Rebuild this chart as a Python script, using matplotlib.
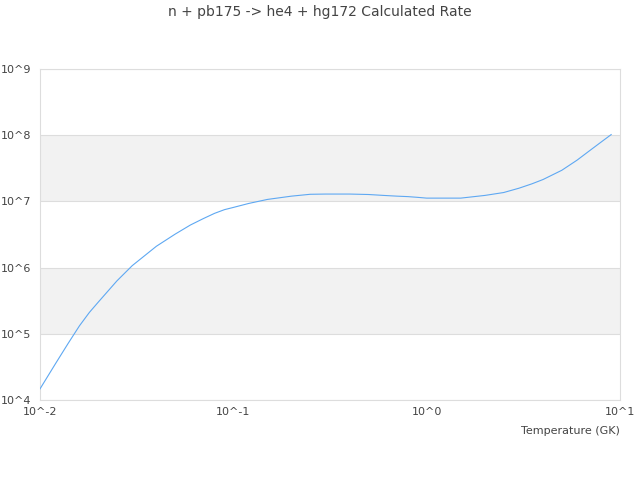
"""
n + pb175 -> he4 + hg172 反应率曲线
"""
import matplotlib
matplotlib.use('Agg')
import matplotlib.pyplot as plt

# 温度 (GK) 与反应率
temperature = [0.01, 0.012, 0.014, 0.016, 0.018, 0.02, 0.025, 0.03, 0.04, 0.05,
               0.06, 0.07, 0.08, 0.09, 0.1, 0.12, 0.15, 0.2, 0.25, 0.3,
               0.4, 0.5, 0.6, 0.7, 0.8, 0.9, 1.0, 1.5, 2.0, 2.5,
               3.0, 3.5, 4.0, 5.0, 6.0, 7.0, 8.0, 9.0]
rate = [1.47e4, 3.5e4, 7.2e4, 1.32e5, 2.1e5, 3.0e5, 6.3e5, 1.07e6, 2.1e6, 3.2e6,
        4.4e6, 5.5e6, 6.6e6, 7.5e6, 8.1e6, 9.3e6, 1.07e7, 1.2e7, 1.28e7, 1.29e7,
        1.29e7, 1.27e7, 1.23e7, 1.2e7, 1.18e7, 1.15e7, 1.12e7, 1.12e7, 1.23e7, 1.36e7,
        1.58e7, 1.84e7, 2.14e7, 2.95e7, 4.2e7, 5.9e7, 7.9e7, 1.02e8]

x_ticks = [1e-2, 1e-1, 1e0, 1e1]
x_tick_labels = ['10^-2', '10^-1', '10^0', '10^1']
y_ticks = [1e4, 1e5, 1e6, 1e7, 1e8, 1e9]
y_tick_labels = ['10^4', '10^5', '10^6', '10^7', '10^8', '10^9']
# 灰色条带区间
bands = [(1e5, 1e6), (1e7, 1e8)]

text_color = '#444444'
grid_color = '#dddddd'

fig = plt.figure(figsize=(6.4, 4.8), dpi=100)
ax = fig.add_axes([0.0625, 0.1667, 0.90625, 0.6896])

for lo, hi in bands:
    ax.axhspan(lo, hi, facecolor='#f2f2f2', edgecolor='none', zorder=0)

ax.plot(temperature, rate, color='#5ea8f2', linewidth=0.8, zorder=3)

ax.set_xscale('log')
ax.set_yscale('log')
ax.set_xlim(1e-2, 1e1)
ax.set_ylim(1e4, 1e9)

ax.set_xticks(x_ticks)
ax.set_xticklabels(x_tick_labels)
ax.set_yticks(y_ticks)
ax.set_yticklabels(y_tick_labels)
ax.minorticks_off()
ax.tick_params(axis='both', length=0, labelsize=8, colors=text_color)
ax.tick_params(axis='x', pad=5)
ax.tick_params(axis='y', pad=6.5)

ax.grid(True, axis='y', color=grid_color, linewidth=0.8, zorder=1)
for side in ['left', 'right', 'top', 'bottom']:
    ax.spines[side].set_color(grid_color)
    ax.spines[side].set_linewidth(0.8)

fig.text(0.5, 0.975, 'n + pb175 -> he4 + hg172 Calculated Rate',
         ha='center', va='center', fontsize=10, color=text_color)
fig.text(620 / 640, 1 - 431 / 480, 'Temperature (GK)',
         ha='right', va='center', fontsize=8, color=text_color)

plt.savefig('out.png', dpi=100)
plt.close()
